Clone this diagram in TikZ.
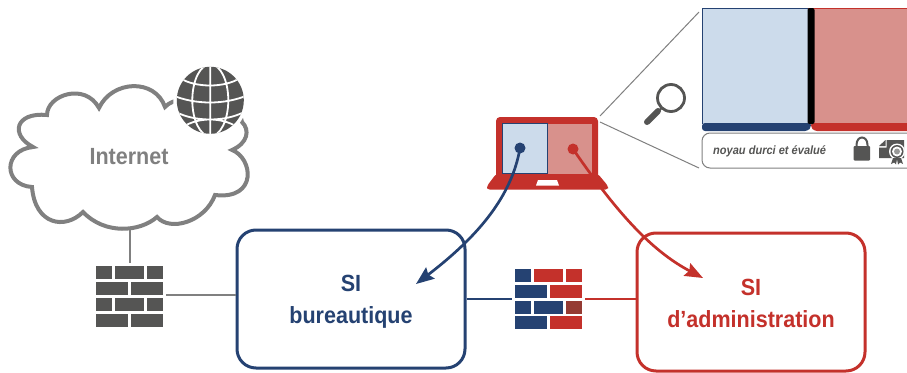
\documentclass[tikz,border=0pt]{standalone}
\usepackage{fontspec}
\setmainfont{Liberation Sans}
\newfontfamily\narrowface[FakeStretch=0.92]{Liberation Sans}
\usetikzlibrary{arrows.meta}
\definecolor{navy}{HTML}{254272}
\definecolor{crimson}{HTML}{C4312B}
\definecolor{paleblue}{HTML}{CCDBEB}
\definecolor{palered}{HTML}{D8918C}
\definecolor{midgrey}{HTML}{808080}
\definecolor{darkgrey}{HTML}{555554}
\definecolor{brickdark}{HTML}{953B33}
\tikzset{
  sibox/.style={draw,line width=3pt,rounded corners=19pt,minimum width=228pt,minimum height=138pt,
    align=center,font=\narrowface\fontsize{23.4}{32}\selectfont\bfseries,inner sep=0pt},
  fwnode/.style={minimum width=73pt,minimum height=67pt,inner sep=0pt,outer sep=0pt},
  link/.style={line width=2.4pt},
  zoomline/.style={draw=midgrey,line width=1pt},
  flow/.style={line width=2.7pt,-{Stealth[length=18pt,width=14pt,inset=2.5pt]}},
  brickg/.style={fill=darkgrey},
  brickb/.style={fill=navy},
  brickr/.style={fill=crimson},
}
\begin{document}
\begin{tikzpicture}[x=1pt,y=-1pt]
\useasboundingbox (0,0) rectangle (907,372);
\fill[white] (0,0) rectangle (907,372);

% boxes
\node[sibox,draw=navy,text=navy] (sib) at (351,299) {\rule{0pt}{22pt}SI\\bureautique};
\node[sibox,draw=crimson,text=crimson] (sia) at (751,302) {\rule{0pt}{20pt}SI\\d’administration};

% firewalls
\node[fwnode] (fwg) at (129.5,296.5) {};
\node[fwnode] (fwc) at (548.5,299) {};
\coordinate (cloudfoot) at (130,228);
\draw[link,draw=midgrey] (cloudfoot) -- (fwg.north -| cloudfoot);
\draw[link,draw=midgrey] ([yshift=1.5pt]fwg.east) -- ([yshift=1.5pt]fwg.east -| sib.west);
\draw[link,draw=navy] (sib.east |- fwc.east) -- (fwc.west);
\draw[link,draw=crimson] (fwc.east) -- (fwc.east -| sia.west);

\foreach \a/\b in {96/112,115/144,147/163}{
  \fill[brickg] (\a,266) rectangle (\b,279);
  \fill[brickg] (\a,298) rectangle (\b,311);}
\foreach \a/\b in {96/128,131/163}{
  \fill[brickg] (\a,282) rectangle (\b,295);
  \fill[brickg] (\a,314) rectangle (\b,327);}

\fill[brickb] (515,269) rectangle (531,282);
\fill[brickr] (534,269) rectangle (563,282);
\fill[brickr] (566,269) rectangle (582,282);
\fill[brickb] (515,285) rectangle (547,298);
\fill[brickr] (550,285) rectangle (582,298);
\fill[brickb] (515,301) rectangle (531,314);
\fill[brickb] (534,301) rectangle (563,314);
\fill[brickdark] (566,301) rectangle (582,314);
\fill[brickb] (515,316) rectangle (547,329);
\fill[brickr] (550,316) rectangle (582,329);

% cloud
\draw[midgrey,line width=4pt,fill=white,line join=miter]
  (47,115) .. controls (47,95) and (85,82) .. (99,108)
  .. controls (112,80) and (155,78) .. (165,107)
  .. controls (180,90) and (240,100) .. (242,122)
  .. controls (250,130) and (248,143) .. (232,150)
  .. controls (253,158) and (258,200) .. (215,195)
  .. controls (205,222) and (170,232) .. (157,217)
  .. controls (140,232) and (105,235) .. (83,212)
  .. controls (65,230) and (35,225) .. (32,187)
  .. controls (3,185) and (3,150) .. (33,147)
  .. controls (10,135) and (15,112) .. (47,115) -- cycle;
\node[text=midgrey,font=\narrowface\fontsize{23.4}{25}\selectfont\bfseries,inner sep=0pt] (inet) at (129,157) {Internet};

% globe
\fill[white] (210.3,100.3) circle (37);
\fill[darkgrey] (210.3,100.3) circle (33.5);
\begin{scope}
\clip (210.3,100.3) circle (33.5);
\draw[white,line width=1.8pt]
  (210.3,64) -- (210.3,137)
  (210.3,100.3) ellipse (18 and 36)
  (180,78) .. controls (195,88) and (225,88) .. (240,78)
  (172,95) .. controls (195,105) and (225,105) .. (248,95)
  (176,112) .. controls (195,122) and (225,122) .. (244,112)
  (183,127) .. controls (198,117) and (222,117) .. (237,127);
\end{scope}

% laptop
\fill[crimson,rounded corners=4pt] (496,117) rectangle (598,180);
\fill[crimson,rounded corners=2.5pt] (496,174) -- (487,186) -- (487,189.5) -- (608,189.5) -- (608,186) -- (598,174) -- cycle;
\fill[white] (538,180) -- (557,180) -- (559,185.5) -- (536,185.5) -- cycle;
\fill[palered] (548,124) rectangle (592,174);
\draw[navy,line width=1pt,fill=paleblue] (502,123.5) rectangle (547,173);
\node[circle,fill=navy,minimum size=11pt,inner sep=0pt] (dotb) at (520,148) {};
\node[circle,fill=crimson,minimum size=11pt,inner sep=0pt] (dotr) at (573,149) {};
\coordinate (tipb) at (416,284);
\coordinate (tipr) at (703,278);
\draw[flow,draw=navy] (dotb.center) .. controls (512,195) and (480,235) .. (tipb);
\draw[flow,draw=crimson] (dotr.center) .. controls (615,210) and (650,250) .. (tipr);

% zoom lines and magnifier
\coordinate (za) at (699,12);
\coordinate (zb) at (600,116);
\coordinate (zc) at (600,122);
\coordinate (zd) at (699,168);
\draw[zoomline] (za) -- (zb);
\draw[zoomline] (zc) -- (zd);
\draw[darkgrey,line width=2.8pt] (671,98) circle (13.5);
\draw[darkgrey,line width=2pt] (662,108) -- (657,112);
\draw[darkgrey,line width=6pt,line cap=round] (658,111) -- (647,122);

% enlarged screen
\begin{scope}
\clip (0,0) rectangle (907,372);
\fill[paleblue] (702.5,8) rectangle (808,124);
\draw[navy,line width=1pt] (808,8.5) -- (702.5,8.5) -- (702.5,124);
\fill[palered] (814,8) rectangle (910,124);
\draw[crimson,line width=1pt] (808,8.5) -- (910,8.5);
\fill[navy,rounded corners=3pt] (702,123) -- (811,123) -- (811,127) -- (808,131) -- (702,131) -- cycle;
\fill[crimson,rounded corners=3pt] (811,123) -- (910,123) -- (910,131) -- (814,131) -- (811,127) -- cycle;
\fill[black,rounded corners=2pt] (807.5,8) rectangle (814.5,124);
\draw[midgrey,line width=1pt,rounded corners=8pt] (915,133) -- (702,133) -- (702,168) -- (915,168);
\node[anchor=west,inner sep=0pt,text=darkgrey,font=\narrowface\fontsize{12}{13}\selectfont\bfseries\itshape] (kernel) at (713,151) {noyau durci et évalué};
% lock
\draw[darkgrey,line width=2pt] (856.5,148) -- (856.5,145) .. controls (856.5,135) and (867.5,135) .. (867.5,145) -- (867.5,148);
\fill[darkgrey,rounded corners=1pt] (853.5,146) rectangle (870,160.5);
% certificate
\fill[darkgrey] (886.5,140) -- (904,140) -- (904,158) -- (879,158) -- (879,147.5) -- (886.5,147.5) -- cycle;
\fill[darkgrey] (879,146) -- (885.5,146) -- (885.5,140) -- cycle;
\fill[white] (897,151.5) circle (8);
\fill[darkgrey] (897,151.5) circle (6.5);
\fill[white] (897,151.5) circle (5);
\fill[darkgrey!60] (897,151.5) circle (3);
\fill[darkgrey] (893,158) -- (891,164) -- (894,162.5) -- (896,164.5) -- (897,159) -- (898,164.5) -- (900,162.5) -- (903,164) -- (901,158) -- cycle;
\end{scope}
\end{tikzpicture}
\end{document}
